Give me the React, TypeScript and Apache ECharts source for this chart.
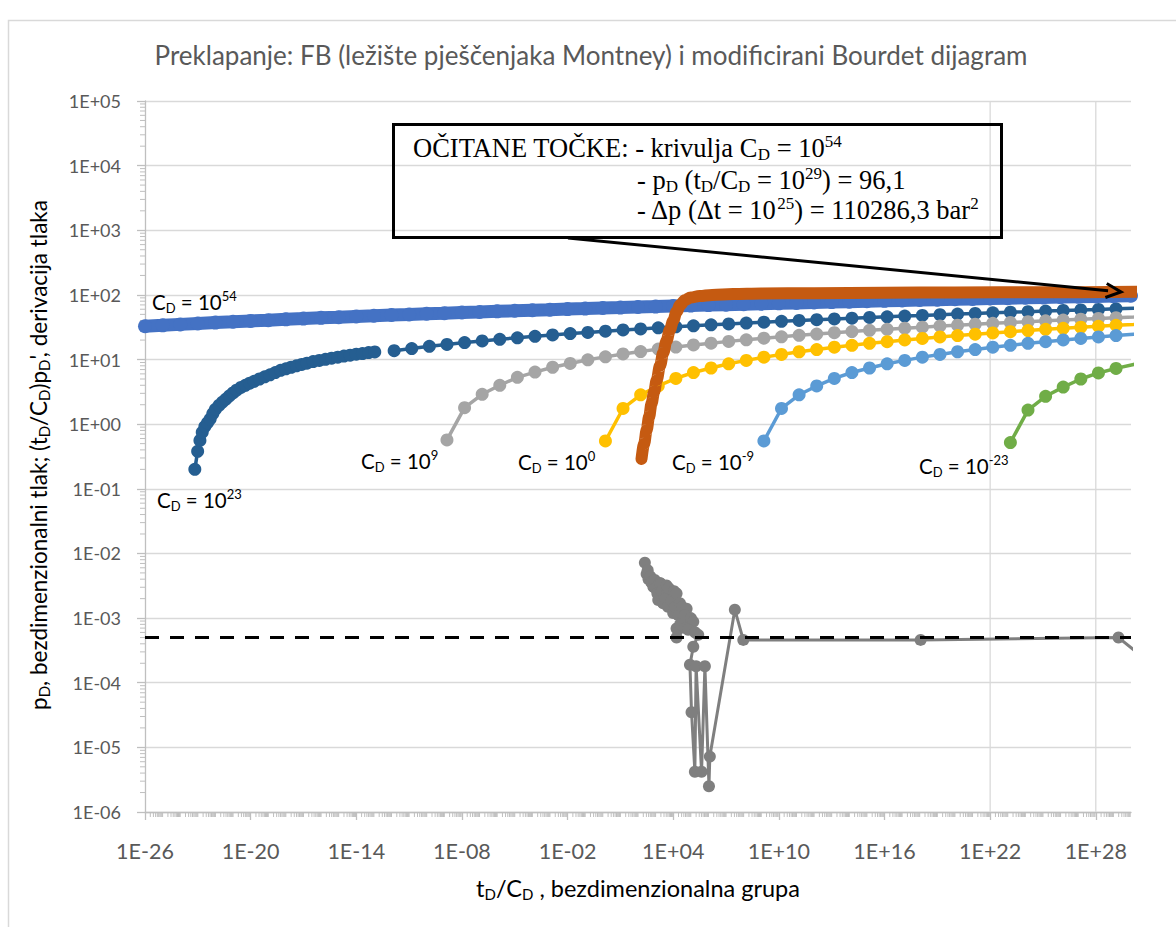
import React, { useEffect, useRef } from "react";
import * as echarts from "echarts";

// ---------- data (x values are log10(tD/CD)) ----------
// evenly spaced marker positions of the type curves
const T_DECADE_EXP = [-11.85, -10.85, -9.85, -8.85, -7.85, -6.85, -5.85, -4.85, -3.85, -2.85, -1.85, -0.85, 0.15, 1.15, 2.15, 3.15, 4.15, 5.15, 6.15, 7.15, 8.15, 9.15, 10.15, 11.15, 12.15, 13.15, 14.15, 15.15, 16.15, 17.15, 18.15, 19.15, 20.15, 21.15, 22.15, 23.15, 24.15, 25.15, 26.15, 27.15, 28.15, 29.15, 30.15, 31.15];

// CD = 10^23, dense early part
const CD23_EARLY_T = [-23.17, -23.01, -22.88, -22.75, -22.6, -22.45, -22.3, -22.15, -22.0, -21.8, -21.6, -21.4, -21.2, -21.0, -20.8, -20.55, -20.3, -20.05, -19.8, -19.5, -19.2, -18.9, -18.6, -18.3, -18.0, -17.7, -17.4, -17.1, -16.8, -16.45, -16.1, -15.75, -15.4, -15.05, -14.7, -14.35, -14.0, -13.65, -13.3, -12.95];
const CD23_EARLY_P = [0.2, 0.38, 0.56, 0.75, 0.92, 1.05, 1.2, 1.45, 1.7, 1.95, 2.2, 2.45, 2.75, 3.05, 3.35, 3.7, 4.0, 4.3, 4.6, 5.0, 5.4, 5.8, 6.3, 6.8, 7.2, 7.6, 8.0, 8.4, 8.8, 9.3, 9.7, 10.1, 10.5, 10.9, 11.3, 11.7, 12.1, 12.4, 12.8, 13.1];
// values aligned with T_DECADE_EXP
const CD23_P = [13.7, 14.8, 16.0, 17.1, 18.3, 19.4, 20.6, 21.7, 22.9, 24.0, 25.2, 26.3, 27.5, 28.7, 29.8, 31.0, 32.1, 33.3, 34.4, 35.6, 36.7, 37.9, 39.0, 40.2, 41.3, 42.5, 43.6, 44.8, 45.9, 47.1, 48.2, 49.4, 50.5, 51.7, 52.8, 54.0, 55.1, 56.3, 57.4, 58.6, 59.7, 60.9, 62.1, 63.2];
const CD9_P = [null, null, null, 0.57, 1.8, 2.9, 4.0, 5.3, 6.4, 7.6, 8.7, 9.9, 11.0, 12.2, 13.3, 14.5, 15.6, 16.8, 17.9, 19.1, 20.2, 21.4, 22.5, 23.7, 24.8, 26.0, 27.1, 28.3, 29.4, 30.6, 31.7, 32.9, 34.0, 35.2, 36.3, 37.5, 38.6, 39.8, 40.9, 42.1, 43.2, 44.4, 45.5, 46.7];
const CD0_P = [null, null, null, null, null, null, null, null, null, null, null, null, 0.55, 1.75, 2.85, 3.9, 5.1, 6.3, 7.4, 8.6, 9.7, 10.9, 12.0, 13.2, 14.3, 15.5, 16.6, 17.8, 18.9, 20.1, 21.2, 22.4, 23.5, 24.7, 25.8, 27.0, 28.1, 29.3, 30.4, 31.6, 32.7, 33.9, 35.0, 36.2];
const CDM9_P = [null, null, null, null, null, null, null, null, null, null, null, null, null, null, null, null, null, null, null, null, null, 0.55, 1.75, 2.85, 3.9, 5.1, 6.3, 7.4, 8.6, 9.7, 10.9, 12.0, 13.2, 14.3, 15.5, 16.6, 17.8, 18.9, 20.1, 21.2, 22.4, 23.5, 24.7, 25.8];
const CDM23_P = [null, null, null, null, null, null, null, null, null, null, null, null, null, null, null, null, null, null, null, null, null, null, null, null, null, null, null, null, null, null, null, null, null, null, null, 0.52, 1.65, 2.7, 3.75, 5.0, 6.2, 7.3, 8.4, 9.6];

// CD = 10^54
const CD54_T = [-26, -25, -24, -23, -22, -21, -20, -19, -18, -17, -16, -15, -14, -13, -12, -11, -10, -9, -8, -7, -6, -5, -4, -3, -2, -1, 0, 1, 2, 3, 4, 5, 6, 7, 8, 9, 10, 11, 12, 13, 14, 15, 16, 17, 18, 19, 20, 21, 22, 23, 24, 25, 26, 27, 28, 29, 30];
const CD54_P = [32.7, 33.8, 35.0, 36.1, 37.3, 38.4, 39.6, 40.7, 41.9, 43.0, 44.2, 45.3, 46.5, 47.6, 48.8, 49.9, 51.1, 52.2, 53.4, 54.5, 55.7, 56.8, 58.0, 59.1, 60.3, 61.4, 62.6, 63.7, 64.9, 66.0, 67.2, 68.3, 69.5, 70.6, 71.8, 72.9, 74.1, 75.2, 76.4, 77.5, 78.7, 79.8, 81.0, 82.1, 83.3, 84.4, 85.6, 86.7, 87.9, 89.0, 90.2, 91.3, 92.5, 93.6, 94.8, 95.9, 97.1];

// field data (matched), pressure
const FIELD_T = [2.2, 2.35, 2.49, 2.63, 2.77, 2.92, 3.06, 3.25, 3.43, 3.62, 3.81, 4.0, 4.19, 4.4, 4.66, 5.0, 5.5, 6.2, 7.4, 9, 12, 16, 20, 25, 30.5];
const FIELD_P = [0.29, 0.5, 0.81, 1.3, 2.1, 3.2, 4.8, 8.0, 12.6, 19.5, 28.8, 40, 55, 70, 83, 91, 96, 100, 103, 105, 106.5, 108, 109, 110, 111.5];

// field data derivative
const DERIV_T = [2.39, 2.49, 2.55, 2.6, 2.7, 2.75, 2.87, 2.95, 3.0, 3.1, 3.24, 3.15, 3.3, 3.35, 3.43, 3.62, 3.5, 3.55, 3.75, 3.7, 3.9, 4.05, 4.19, 4.0, 4.1, 4.38, 4.3, 4.19, 4.5, 4.76, 4.57, 4.65, 4.4, 4.19, 4.7, 5.0, 5.14, 4.85, 5.25, 5.42, 5.14, 4.95, 5.04, 5.23, 5.3, 5.61, 5.8, 6.03, 6.08, 7.5, 7.98, 18.05, 29.29, 31.0];
const DERIV_V = [7.2e-3, 4.8e-3, 5.5e-3, 4.0e-3, 4.4e-3, 3.6e-3, 3.06e-3, 3.9e-3, 2.9e-3, 2.4e-3, 3.5e-3, 1.9e-3, 3.4e-3, 2.6e-3, 1.7e-3, 3.2e-3, 2.2e-3, 2.0e-3, 2.9e-3, 1.5e-3, 1.9e-3, 2.6e-3, 2.4e-3, 1.2e-3, 1.5e-3, 1.7e-3, 1.1e-3, 6.9e-4, 1.5e-3, 1.4e-3, 9.3e-4, 1.1e-3, 8.0e-4, 5.0e-4, 7.0e-4, 1.0e-3, 8.8e-4, 6.6e-4, 6.0e-4, 5.5e-4, 3.6e-4, 1.9e-4, 3.5e-5, 4.2e-6, 1.8e-4, 4.2e-6, 1.8e-4, 2.5e-6, 7.2e-6, 1.35e-3, 4.6e-4, 4.6e-4, 5.0e-4, 2.1e-4];

// horizontal reference level of the derivative
const DERIV_LEVEL = 5e-4;

// axis ranges / ticks (log10 exponents)
const X_MIN = -26;
const X_MAX = 30;
const X_STEP = 6;
const Y_MIN = -6;
const Y_MAX = 5;
const X_GRID_LINES = [22, 28];

// ---------- styles ----------
const SANS = "Lato, 'Open Sans', sans-serif";
const SERIF = "'Liberation Serif', 'Times New Roman', serif";
const GRAY_TEXT = "#595959";

function richSet(size: number, color: string, family: string) {
  const s = Math.round(size * 0.65);
  return {
    n: { fontSize: size, fontFamily: family, color, lineHeight: size + 4 },
    sub: { fontSize: s, fontFamily: family, color, lineHeight: s, verticalAlign: "bottom" },
    sup: { fontSize: s, fontFamily: family, color, lineHeight: s, verticalAlign: "top" },
  };
}

function fmtExp(v: number) {
  const n = Math.round(v);
  const a = Math.abs(n);
  return "1E" + (n < 0 ? "-" : "+") + (a < 10 ? "0" + a : String(a));
}

function pairs(xs: number[], ys: (number | null)[]) {
  const out: number[][] = [];
  xs.forEach((x, i) => {
    const y = ys[i];
    if (y != null) out.push([x, Math.log10(y)]);
  });
  return out;
}

function markerSeries(name: string, data: number[][], color: string, size: number, lw: number, z = 2) {
  return {
    name,
    type: "line",
    data,
    z,
    symbol: "circle",
    symbolSize: size,
    showSymbol: true,
    itemStyle: { color },
    lineStyle: { color, width: lw },
    clip: true,
    silent: true,
  };
}

export default function App() {
  const ref = useRef<HTMLDivElement>(null);

  useEffect(() => {
    if (!ref.current) return;
    const chart = echarts.init(ref.current, null, { renderer: "svg" });

    const xMinor: number[][] = [];
    for (let e = X_MIN; e < X_MAX; e++) {
      for (let k = 1; k <= 9; k++) {
        if (k === 1 && (e - X_MIN) % X_STEP === 0) continue;
        xMinor.push([e + Math.log10(k), Y_MIN]);
      }
    }
    const yMinor: number[][] = [];
    for (let e = Y_MIN; e < Y_MAX; e++) {
      for (let k = 2; k <= 9; k++) yMinor.push([X_MIN, e + Math.log10(k)]);
    }

    const tickColor = "#BFBFBF";

    const curveLabel = (sup: string, x: number, y: number) => ({
      type: "text",
      x,
      y,
      z: 20,
      silent: true,
      style: {
        text: "{n|C}{sub|D}{n| = 10}{sup|" + sup + "}",
        rich: richSet(20.5, "#000000", SANS),
        align: "left",
        verticalAlign: "middle",
      },
    });

    // annotation arrow geometry
    const ax1 = 568, ay1 = 238, ax2 = 1121, ay2 = 292;
    const len = Math.hypot(ax2 - ax1, ay2 - ay1);
    const ux = (ax2 - ax1) / len, uy = (ay2 - ay1) / len;
    const hb = 15, hw = 7;
    const bx = ax2 - hb * ux, by = ay2 - hb * uy;

    const serifRich = richSet(26.5, "#000000", SERIF);

    const option: any = {
      animation: false,
      backgroundColor: "#ffffff",
      grid: { left: 145, right: 45, top: 101, bottom: 115, containLabel: false, outerBoundsMode: "none" },
      xAxis: {
        type: "value",
        min: X_MIN,
        max: X_MAX,
        interval: X_STEP,
        axisLine: { show: true, onZero: false, lineStyle: { color: tickColor, width: 1.3 } },
        axisTick: { show: true, length: 8, lineStyle: { color: tickColor, width: 1.3 } },
        splitLine: { show: false },
        axisLabel: {
          formatter: fmtExp,
          showMaxLabel: false,
          margin: 28,
          fontFamily: SANS,
          fontSize: 21.5,
          color: GRAY_TEXT,
        },
      },
      yAxis: {
        type: "value",
        min: Y_MIN,
        max: Y_MAX,
        interval: 1,
        axisLine: { show: true, onZero: false, lineStyle: { color: tickColor, width: 1.3 } },
        axisTick: { show: true, length: 8, lineStyle: { color: tickColor, width: 1.3 } },
        splitLine: { show: true, lineStyle: { color: "#D9D9D9", width: 1.3 } },
        axisLabel: {
          formatter: fmtExp,
          margin: 24,
          fontFamily: SANS,
          fontSize: 18,
          color: GRAY_TEXT,
        },
      },
      series: [
        {
          type: "custom",
          silent: true,
          clip: false,
          z: 1,
          data: X_GRID_LINES.map((v) => [v, Y_MIN]),
          renderItem: (_p: any, api: any) => {
            const a = api.coord([api.value(0), Y_MIN]);
            const b = api.coord([api.value(0), Y_MAX]);
            return { type: "line", shape: { x1: a[0], y1: a[1], x2: b[0], y2: b[1] }, style: { stroke: "#D9D9D9", lineWidth: 1.3 } };
          },
        },
        {
          type: "custom",
          silent: true,
          clip: false,
          z: 1,
          data: xMinor,
          renderItem: (_p: any, api: any) => {
            const a = api.coord([api.value(0), Y_MIN]);
            return { type: "line", shape: { x1: a[0], y1: a[1], x2: a[0], y2: a[1] + 5 }, style: { stroke: tickColor, lineWidth: 1 } };
          },
        },
        {
          type: "custom",
          silent: true,
          clip: false,
          z: 1,
          data: yMinor,
          renderItem: (_p: any, api: any) => {
            const a = api.coord([X_MIN, api.value(1)]);
            return { type: "line", shape: { x1: a[0] - 5, y1: a[1], x2: a[0], y2: a[1] }, style: { stroke: tickColor, lineWidth: 1 } };
          },
        },
        markerSeries("CD=1e23 early", pairs(CD23_EARLY_T, CD23_EARLY_P), "#255E91", 13, 3.5),
        markerSeries("CD=1e23", pairs(T_DECADE_EXP, CD23_P), "#255E91", 13, 3.5),
        markerSeries("CD=1e9", pairs(T_DECADE_EXP, CD9_P), "#A5A5A5", 13, 3.5),
        markerSeries("CD=1e0", pairs(T_DECADE_EXP, CD0_P), "#FFC000", 13, 3.5),
        markerSeries("CD=1e-9", pairs(T_DECADE_EXP, CDM9_P), "#5B9BD5", 13, 3.5),
        markerSeries("CD=1e-23", pairs(T_DECADE_EXP, CDM23_P), "#70AD47", 13, 3.5),
        markerSeries("derivative", pairs(DERIV_T, DERIV_V), "#7F7F7F", 12, 3),
        {
          name: "level",
          type: "line",
          silent: true,
          z: 3,
          data: [[X_MIN, Math.log10(DERIV_LEVEL)], [X_MAX, Math.log10(DERIV_LEVEL)]],
          showSymbol: false,
          symbol: "none",
          lineStyle: { color: "#000000", width: 3, type: [14, 11] },
        },
        markerSeries("CD=1e54", pairs(CD54_T, CD54_P), "#4472C4", 14, 13, 3),
        {
          name: "field",
          type: "line",
          silent: true,
          z: 5,
          data: pairs(FIELD_T, FIELD_P),
          showSymbol: false,
          symbol: "none",
          smooth: 0.35,
          smoothMonotone: "x",
          clip: true,
          lineStyle: { color: "#C55A11", width: 12, cap: "round", join: "round" },
        },
      ],
      graphic: [
        {
          type: "rect",
          silent: true,
          shape: { x: 8.5, y: 20.5, width: 1400, height: 1100 },
          style: { fill: "none", stroke: "#D9D9D9", lineWidth: 1.5 },
        },
        {
          type: "text",
          x: 591,
          y: 55,
          silent: true,
          style: {
            text: "Preklapanje: FB (ležište pješčenjaka Montney) i modificirani Bourdet dijagram",
            fontFamily: SANS,
            fontSize: 26,
            fill: GRAY_TEXT,
            align: "center",
            verticalAlign: "middle",
          },
        },
        {
          type: "text",
          x: 638,
          y: 888,
          silent: true,
          style: {
            text: "{n|t}{sub|D}{n|/C}{sub|D}{n| , bezdimenzionalna grupa}",
            rich: richSet(23.5, GRAY_TEXT, SANS),
            align: "center",
            verticalAlign: "middle",
          },
        },
        {
          type: "text",
          x: 38,
          y: 455,
          rotation: Math.PI / 2,
          silent: true,
          style: {
            text: "{n|p}{sub|D}{n|, bezdimenzionalni tlak; (t}{sub|D}{n|/C}{sub|D}{n|)p}{sub|D}{n|', derivacija tlaka}",
            rich: richSet(22.5, GRAY_TEXT, SANS),
            align: "center",
            verticalAlign: "middle",
          },
        },
        curveLabel("54", 152, 302),
        curveLabel("23", 157, 500),
        curveLabel("9", 361, 461),
        curveLabel("0", 518, 462),
        curveLabel("-9", 672, 462),
        curveLabel("-23", 919, 466),
        {
          type: "rect",
          silent: true,
          z: 20,
          shape: { x: 393.5, y: 124.5, width: 608, height: 113 },
          style: { fill: "none", stroke: "#000000", lineWidth: 3 },
        },
        {
          type: "text",
          x: 413,
          y: 148,
          z: 20,
          silent: true,
          style: {
            text: "{n|OČITANE TOČKE: - krivulja C}{sub|D}{n| = 10}{sup|54}",
            rich: serifRich,
            align: "left",
            verticalAlign: "middle",
          },
        },
        {
          type: "text",
          x: 637,
          y: 180,
          z: 20,
          silent: true,
          style: {
            text: "{n|- p}{sub|D}{n| (t}{sub|D}{n|/C}{sub|D}{n| = 10}{sup|29}{n|) = 96,1}",
            rich: serifRich,
            align: "left",
            verticalAlign: "middle",
          },
        },
        {
          type: "text",
          x: 637,
          y: 210,
          z: 20,
          silent: true,
          style: {
            text: "{n|- Δp (Δt = 10}{sup|25}{n|) = 110286,3 bar}{sup|2}",
            rich: serifRich,
            align: "left",
            verticalAlign: "middle",
          },
        },
        {
          type: "line",
          silent: true,
          z: 20,
          shape: { x1: ax1, y1: ay1, x2: bx + 2 * ux, y2: by + 2 * uy },
          style: { stroke: "#000000", lineWidth: 3 },
        },
        {
          type: "polyline",
          silent: true,
          z: 20,
          shape: {
            points: [
              [bx - hw * uy, by + hw * ux],
              [ax2, ay2],
              [bx + hw * uy, by - hw * ux],
            ],
          },
          style: { fill: "none", stroke: "#000000", lineWidth: 3, lineJoin: "miter" },
        },
      ],
    };

    chart.setOption(option);
    return () => chart.dispose();
  }, []);

  return (
    <div
      ref={ref}
      style={{ position: "absolute", left: 0, top: 0, width: 1176, height: 927, background: "#fff" }}
    />
  );
}
